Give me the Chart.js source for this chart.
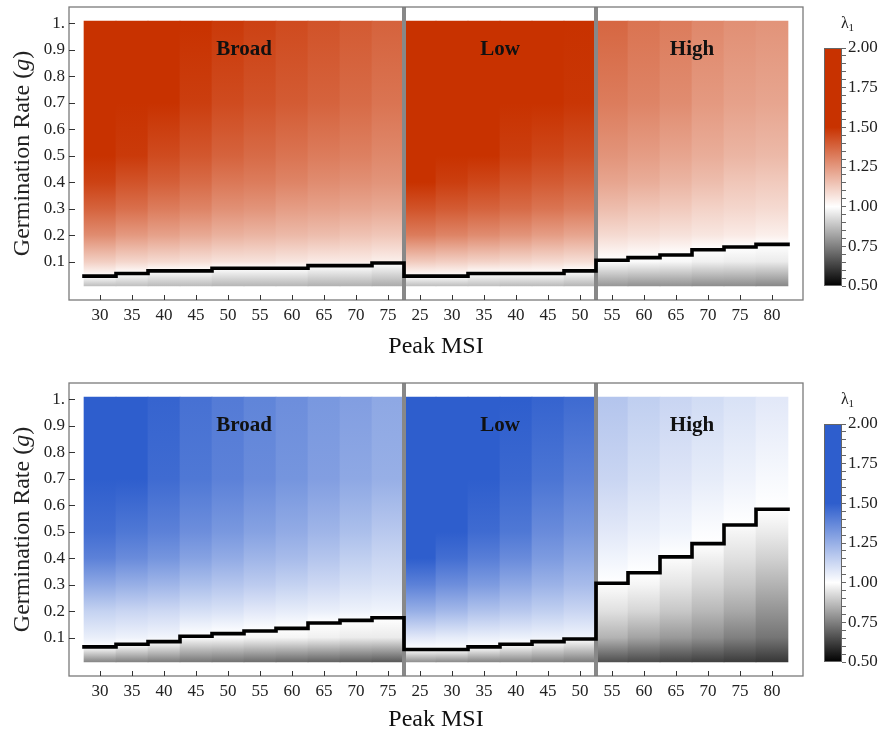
<!DOCTYPE html>
<html>
<head>
<meta charset="utf-8">
<script src="https://cdn.jsdelivr.net/npm/chart.js@4.4.1/dist/chart.umd.min.js"></script>
<style>
  html, body { margin: 0; padding: 0; background: #fff; overflow: hidden; }
  #wrap { position: relative; width: 883px; height: 738px; }
  canvas { position: absolute; }
</style>
</head>
<body>
<div id="wrap">
  <canvas id="topMap" width="815" height="369" style="left:0;top:0"></canvas>
  <canvas id="topBar" width="68" height="300" style="left:815px;top:0"></canvas>
  <canvas id="botMap" width="815" height="362" style="left:0;top:376px"></canvas>
  <canvas id="botBar" width="68" height="300" style="left:815px;top:376px"></canvas>
</div>
<script>
// Peak MSI per column, one list per section
const BROAD_MSI = [30, 35, 40, 45, 50, 55, 60, 65, 70, 75];
const LOW_MSI = [25, 30, 35, 40, 45, 50];
const HIGH_MSI = [55, 60, 65, 70, 75, 80];
const SECTIONS = ["Broad", "Low", "High"];

const G_TICKS = [0.1, 0.2, 0.3, 0.4, 0.5, 0.6, 0.7, 0.8, 0.9, 1.0];
const G_SPAN = [0.008, 1.008];
const G_LEVELS = [0.01, 0.1, 0.2, 0.3, 0.4, 0.5, 0.7, 1.0];
const LAMBDA_TICKS = [0.5, 0.75, 1, 1.25, 1.5, 1.75, 2];

// g where lambda_1 = 1 (black step line)
const TOP_EDGE = [0.045, 0.055, 0.065, 0.065, 0.075, 0.075, 0.075, 0.085, 0.085, 0.095,
                  0.045, 0.045, 0.055, 0.055, 0.055, 0.065,
                  0.105, 0.115, 0.125, 0.145, 0.155, 0.165];
const BOT_EDGE = [0.065, 0.075, 0.085, 0.105, 0.115, 0.125, 0.135, 0.155, 0.165, 0.175,
                  0.055, 0.055, 0.065, 0.075, 0.085, 0.095,
                  0.305, 0.345, 0.405, 0.455, 0.525, 0.585];

// lambda_1 at G_LEVELS, one row per column (upper panel)
const TOP_LAMBDA = [
  [0.88, 1.12, 1.28, 1.38, 1.46, 1.52, 1.62, 1.72],
  [0.88, 1.10, 1.25, 1.35, 1.42, 1.48, 1.56, 1.62],
  [0.87, 1.09, 1.23, 1.32, 1.39, 1.44, 1.51, 1.56],
  [0.87, 1.08, 1.21, 1.30, 1.36, 1.41, 1.47, 1.51],
  [0.86, 1.07, 1.19, 1.27, 1.33, 1.38, 1.44, 1.48],
  [0.86, 1.07, 1.18, 1.26, 1.32, 1.36, 1.42, 1.46],
  [0.86, 1.06, 1.17, 1.24, 1.30, 1.34, 1.40, 1.44],
  [0.85, 1.05, 1.16, 1.23, 1.28, 1.32, 1.38, 1.42],
  [0.85, 1.05, 1.15, 1.22, 1.27, 1.31, 1.36, 1.40],
  [0.84, 1.04, 1.14, 1.21, 1.26, 1.29, 1.34, 1.38],
  [0.88, 1.13, 1.32, 1.42, 1.50, 1.56, 1.65, 1.75],
  [0.88, 1.12, 1.30, 1.40, 1.47, 1.52, 1.60, 1.70],
  [0.88, 1.11, 1.28, 1.38, 1.45, 1.50, 1.58, 1.66],
  [0.87, 1.10, 1.26, 1.36, 1.42, 1.47, 1.53, 1.62],
  [0.87, 1.09, 1.24, 1.34, 1.40, 1.45, 1.51, 1.58],
  [0.86, 1.08, 1.22, 1.32, 1.38, 1.43, 1.49, 1.55],
  [0.80, 0.995, 1.09, 1.16, 1.22, 1.26, 1.32, 1.37],
  [0.79, 0.99, 1.08, 1.14, 1.20, 1.24, 1.30, 1.34],
  [0.79, 0.985, 1.07, 1.13, 1.18, 1.22, 1.28, 1.32],
  [0.78, 0.97, 1.06, 1.11, 1.16, 1.20, 1.25, 1.29],
  [0.78, 0.965, 1.05, 1.10, 1.14, 1.18, 1.23, 1.27],
  [0.77, 0.96, 1.04, 1.09, 1.13, 1.17, 1.22, 1.26]
];

// lambda_1 at G_LEVELS (lower panel)
const BOT_LAMBDA = [
  [0.77, 1.05, 1.14, 1.27, 1.39, 1.45, 1.52, 1.55],
  [0.76, 1.04, 1.13, 1.25, 1.36, 1.42, 1.50, 1.52],
  [0.75, 1.03, 1.12, 1.23, 1.33, 1.39, 1.46, 1.48],
  [0.74, 0.99, 1.10, 1.20, 1.29, 1.35, 1.42, 1.44],
  [0.73, 0.99, 1.09, 1.18, 1.26, 1.32, 1.39, 1.41],
  [0.72, 0.98, 1.07, 1.16, 1.23, 1.29, 1.36, 1.38],
  [0.71, 0.98, 1.06, 1.14, 1.21, 1.26, 1.33, 1.35],
  [0.70, 0.97, 1.05, 1.12, 1.18, 1.23, 1.30, 1.32],
  [0.69, 0.96, 1.04, 1.10, 1.15, 1.20, 1.27, 1.30],
  [0.68, 0.96, 1.035, 1.09, 1.13, 1.17, 1.25, 1.27],
  [0.79, 1.07, 1.25, 1.39, 1.50, 1.53, 1.52, 1.50],
  [0.78, 1.06, 1.22, 1.35, 1.45, 1.50, 1.52, 1.52],
  [0.77, 1.05, 1.19, 1.31, 1.40, 1.46, 1.50, 1.51],
  [0.77, 1.045, 1.17, 1.27, 1.36, 1.42, 1.47, 1.50],
  [0.76, 1.04, 1.15, 1.24, 1.31, 1.36, 1.43, 1.48],
  [0.75, 1.035, 1.13, 1.21, 1.27, 1.32, 1.39, 1.46],
  [0.66, 0.85, 0.94, 0.995, 1.035, 1.07, 1.13, 1.18],
  [0.65, 0.82, 0.92, 0.98, 1.02, 1.05, 1.10, 1.15],
  [0.64, 0.80, 0.89, 0.95, 0.995, 1.035, 1.08, 1.13],
  [0.63, 0.78, 0.86, 0.92, 0.97, 1.01, 1.06, 1.11],
  [0.62, 0.75, 0.83, 0.89, 0.94, 0.98, 1.04, 1.09],
  [0.61, 0.73, 0.79, 0.85, 0.91, 0.96, 1.02, 1.07]
];

const MSI = BROAD_MSI.concat(LOW_MSI, HIGH_MSI);
const SECTION_SIZES = [BROAD_MSI.length, LOW_MSI.length, HIGH_MSI.length];
const N = MSI.length;
const SERIF = "'Liberation Serif', 'Times New Roman', serif";
const RED = [200, 50, 0];
const BLUE = [46, 94, 205];
const X_PAD = 15 / 32; // frame margin around the cells, in columns

function lambdaColor(l, accent) {
  if (l <= 1) {
    const t = Math.max(0, Math.min(1, (l - 0.5) / 0.5));
    const v = Math.round(255 * t);
    return `rgb(${v},${v},${v})`;
  }
  const t = Math.min(1, (l - 1) / 0.5);
  const c = accent.map(a => Math.round(255 + (a - 255) * t));
  return `rgb(${c[0]},${c[1]},${c[2]})`;
}

function columnFill(ctx, rows, edges, accent) {
  const chart = ctx.chart;
  if (!chart.chartArea || ctx.type !== "data") return "rgba(0,0,0,0)";
  const i = ctx.dataIndex;
  const y = chart.scales.y;
  const grad = chart.ctx.createLinearGradient(0, y.getPixelForValue(G_SPAN[0]), 0, y.getPixelForValue(G_SPAN[1]));
  const stops = G_LEVELS.map((g, k) => [g, rows[i][k]]);
  stops.push([edges[i], 1]);
  stops.sort((a, b) => a[0] - b[0]);
  const span = G_SPAN[1] - G_SPAN[0];
  stops.forEach(([g, l]) => {
    const f = Math.max(0, Math.min(1, (g - G_SPAN[0]) / span));
    grad.addColorStop(f, lambdaColor(l, accent));
  });
  return grad;
}

const mapPlugin = {
  id: "mapDecor",
  afterDatasetDraw(chart, args) {
    if (args.meta.type !== "bar") return;
    // section separators
    const { ctx, chartArea } = chart;
    const x = chart.scales.x;
    ctx.save();
    ctx.strokeStyle = "#888";
    ctx.lineWidth = 4;
    let acc = 0;
    SECTION_SIZES.slice(0, -1).forEach(s => {
      acc += s;
      const px = x.getPixelForValue(acc - 0.5);
      ctx.beginPath();
      ctx.moveTo(px, chartArea.top);
      ctx.lineTo(px, chartArea.bottom);
      ctx.stroke();
    });
    ctx.restore();
  },
  afterDatasetsDraw(chart) {
    const { ctx } = chart;
    const x = chart.scales.x, y = chart.scales.y;
    ctx.save();
    ctx.font = "bold 21px " + SERIF;
    ctx.fillStyle = "#111";
    ctx.textAlign = "center";
    ctx.textBaseline = "middle";
    let start = 0;
    SECTIONS.forEach((name, k) => {
      const mid = start + SECTION_SIZES[k] / 2 - 0.5;
      ctx.fillText(name, x.getPixelForValue(mid), y.getPixelForValue(0.9));
      start += SECTION_SIZES[k];
    });
    ctx.restore();
  },
  afterDraw(chart) {
    const { ctx, chartArea } = chart;
    const x = chart.scales.x, y = chart.scales.y;
    ctx.save();
    // frame
    ctx.strokeStyle = "#7a7a7a";
    ctx.lineWidth = 1.3;
    ctx.strokeRect(chartArea.left, chartArea.top, chartArea.right - chartArea.left, chartArea.bottom - chartArea.top);
    // inward tick marks
    ctx.strokeStyle = "#333";
    ctx.lineWidth = 1;
    ctx.beginPath();
    x.ticks.forEach(t => {
      const px = Math.round(x.getPixelForValue(t.value)) + 0.5;
      ctx.moveTo(px, chartArea.bottom);
      ctx.lineTo(px, chartArea.bottom - 5);
    });
    y.ticks.forEach(t => {
      const py = Math.round(y.getPixelForValue(t.value)) + 0.5;
      ctx.moveTo(chartArea.left, py);
      ctx.lineTo(chartArea.left + 6, py);
    });
    ctx.stroke();
    // y axis title with italic g
    const parts = [["Germination Rate (", "24px "], ["g", "italic 24px "], [")", "24px "]];
    let total = 0;
    parts.forEach(p => { ctx.font = p[1] + SERIF; total += ctx.measureText(p[0]).width; });
    ctx.translate(23, (chartArea.top + chartArea.bottom) / 2);
    ctx.rotate(-Math.PI / 2);
    ctx.fillStyle = "#222";
    ctx.textBaseline = "middle";
    ctx.textAlign = "left";
    let cx = -total / 2;
    parts.forEach(p => {
      ctx.font = p[1] + SERIF;
      ctx.fillText(p[0], cx, 0);
      cx += ctx.measureText(p[0]).width;
    });
    ctx.restore();
  }
};

function makeMap(id, rows, edges, accent, axisHeight, titlePad) {
  const steps = edges.map((e, i) => ({ x: i - 0.5, y: e }));
  steps.push({ x: N - 0.5, y: edges[N - 1] });
  new Chart(document.getElementById(id), {
    type: "bar",
    data: {
      datasets: [
        {
          type: "bar",
          data: MSI.map((m, i) => ({ x: i, y: G_SPAN })),
          backgroundColor: ctx => columnFill(ctx, rows, edges, accent),
          borderWidth: 0,
          barPercentage: 1,
          categoryPercentage: 1,
          order: 1
        },
        {
          type: "line",
          data: steps,
          stepped: "before",
          borderColor: "#000",
          borderWidth: 3.6,
          borderCapStyle: "square",
          borderJoinStyle: "miter",
          pointRadius: 0,
          fill: false,
          order: 0
        }
      ]
    },
    options: {
      responsive: false,
      animation: false,
      events: [],
      layout: { padding: { left: 0, top: 7, right: 12, bottom: 0 } },
      plugins: { legend: { display: false }, tooltip: { enabled: false } },
      scales: {
        x: {
          type: "linear",
          offset: false,
          min: -0.5 - X_PAD,
          max: N - 0.5 + X_PAD,
          afterBuildTicks: s => { s.ticks = MSI.map((m, i) => ({ value: i })); },
          afterFit: s => { s.height = axisHeight; s.paddingLeft = 0; s.paddingRight = 0; },
          ticks: {
            callback: v => MSI[v],
            autoSkip: false,
            maxRotation: 0,
            padding: 5,
            color: "#222",
            font: { family: SERIF, size: 17 }
          },
          grid: { display: false, drawTicks: false, offset: false },
          border: { display: false },
          title: {
            display: true,
            text: "Peak MSI",
            color: "#111",
            font: { family: SERIF, size: 24 },
            padding: { top: 0, bottom: titlePad }
          }
        },
        y: {
          type: "linear",
          min: -0.045,
          max: 1.0615,
          afterBuildTicks: s => { s.ticks = G_TICKS.map(v => ({ value: v })); },
          afterFit: s => { s.width = 69; s.paddingTop = 0; s.paddingBottom = 0; },
          ticks: {
            callback: v => (v === 1 ? "1." : v.toFixed(1)),
            padding: 4,
            color: "#222",
            font: { family: SERIF, size: 17 }
          },
          grid: { display: false, drawTicks: false },
          border: { display: false }
        }
      }
    },
    plugins: [mapPlugin]
  });
}

const barPlugin = {
  id: "barDecor",
  afterDraw(chart) {
    const { ctx, chartArea } = chart;
    ctx.save();
    ctx.strokeStyle = "#666";
    ctx.lineWidth = 1;
    ctx.strokeRect(chartArea.left + 0.5, chartArea.top + 0.5, chartArea.right - chartArea.left - 1, chartArea.bottom - chartArea.top - 1);
    ctx.fillStyle = "#222";
    ctx.textBaseline = "alphabetic";
    ctx.font = "16px " + SERIF;
    ctx.fillText("λ", 26, 28);
    ctx.font = "11px " + SERIF;
    ctx.fillText("1", 33.5, 31);
    ctx.restore();
  }
};

function makeBar(id, accent) {
  const lo = LAMBDA_TICKS[0], hi = LAMBDA_TICKS[LAMBDA_TICKS.length - 1];
  new Chart(document.getElementById(id), {
    type: "bar",
    data: {
      labels: ["λ1"],
      datasets: [{
        data: [[lo, hi]],
        backgroundColor: ctx => {
          const chart = ctx.chart;
          if (!chart.chartArea) return "rgba(0,0,0,0)";
          const y = chart.scales.y;
          const grad = chart.ctx.createLinearGradient(0, y.getPixelForValue(lo), 0, y.getPixelForValue(hi));
          LAMBDA_TICKS.forEach(v => grad.addColorStop((v - lo) / (hi - lo), lambdaColor(v, accent)));
          return grad;
        },
        borderWidth: 0,
        barPercentage: 1,
        categoryPercentage: 1
      }]
    },
    options: {
      responsive: false,
      animation: false,
      events: [],
      layout: { padding: { left: 9, top: 48, right: 0, bottom: 14 } },
      plugins: { legend: { display: false }, tooltip: { enabled: false } },
      scales: {
        x: { display: false },
        y: {
          position: "right",
          min: lo,
          max: hi,
          afterFit: s => { s.width = 41; s.paddingTop = 0; s.paddingBottom = 0; },
          ticks: {
            stepSize: 0.05,
            maxTicksLimit: 100,
            autoSkip: false,
            padding: 2,
            color: "#222",
            font: { family: SERIF, size: 17 },
            callback: v => (LAMBDA_TICKS.some(t => Math.abs(t - v) < 1e-6) ? v.toFixed(2) : "")
          },
          grid: { drawOnChartArea: false, drawTicks: true, tickLength: 4, color: "#666" },
          border: { display: false }
        }
      }
    },
    plugins: [barPlugin]
  });
}

makeMap("topMap", TOP_LAMBDA, TOP_EDGE, RED, 69, 7.6);
makeMap("botMap", BOT_LAMBDA, BOT_EDGE, BLUE, 62, 3.6);
makeBar("topBar", RED);
makeBar("botBar", BLUE);
</script>
</body>
</html>
